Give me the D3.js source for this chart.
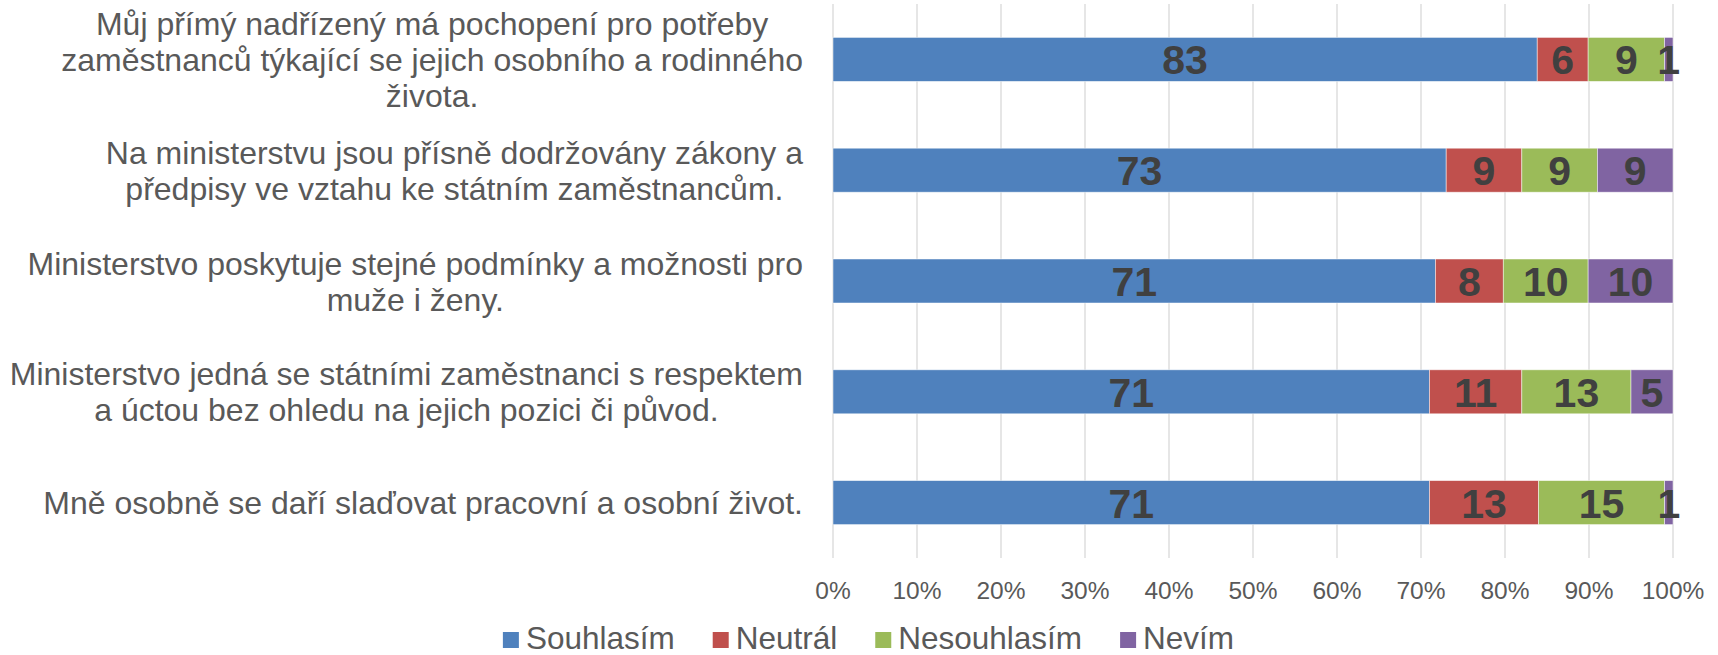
<!DOCTYPE html>
<html>
<head>
<meta charset="utf-8">
<script src="https://cdn.jsdelivr.net/npm/d3@7"></script>
<style>
  body { margin: 0; background: #fff; }
  svg { display: block; font-family: "Liberation Sans", Arial, sans-serif; }
</style>
</head>
<body>
<div id="chart"></div>
<script>
// --- data ---
const categories = [
    ["Můj přímý nadřízený má pochopení pro potřeby", "zaměstnanců týkající se jejich osobního a rodinného", "života."],
    ["Na ministerstvu jsou přísně dodržovány zákony a", "předpisy ve vztahu ke státním zaměstnancům."],
    ["Ministerstvo poskytuje stejné podmínky a možnosti pro", "muže i ženy."],
    ["Ministerstvo jedná se státními zaměstnanci s respektem", "a úctou bez ohledu na jejich pozici či původ."],
    ["Mně osobně se daří slaďovat pracovní a osobní život."]
];
const seriesNames = ["Souhlasím", "Neutrál", "Nesouhlasím", "Nevím"];
const souhlasim   = [83, 73, 71, 71, 71];
const neutral     = [6, 9, 8, 11, 13];
const nesouhlasim = [9, 9, 10, 13, 15];
const nevim       = [1, 9, 10, 5, 1];
const tickValues  = [0, 0.1, 0.2, 0.3, 0.4, 0.5, 0.6, 0.7, 0.8, 0.9, 1];

const colors = { "Souhlasím": "#4f81bd", "Neutrál": "#c0504d", "Nesouhlasím": "#9bbb59", "Nevím": "#8064a2" };

const width = 1718, height = 655;
const plot = { l: 833, r: 1673, t: 4, b: 558 };

const rows = categories.map((c, i) => ({
    idx: i,
    "Souhlasím": souhlasim[i],
    "Neutrál": neutral[i],
    "Nesouhlasím": nesouhlasim[i],
    "Nevím": nevim[i]
}));

// 100% stacked
const stack = d3.stack().keys(seriesNames).offset(d3.stackOffsetExpand)(rows);

const svg = d3.select("#chart").append("svg")
    .attr("width", width)
    .attr("height", height);

const x = d3.scaleLinear().domain([0, 1]).range([plot.l, plot.r]);
const y = d3.scaleBand().domain(d3.range(categories.length)).range([plot.t, plot.b])
    .paddingInner(0.603).paddingOuter(0.3015);

// gridlines
svg.append("g").selectAll("line").data(tickValues).join("line")
    .attr("x1", d => x(d)).attr("x2", d => x(d))
    .attr("y1", plot.t).attr("y2", plot.b)
    .attr("stroke", "#d9d9d9").attr("stroke-width", 1.3);

// tick labels
const fmt = d3.format(".0%");
svg.append("g").selectAll("text").data(tickValues).join("text")
    .attr("x", d => x(d)).attr("y", 599)
    .attr("text-anchor", "middle")
    .attr("font-size", 24.5)
    .attr("fill", "#595959")
    .text(d => fmt(d));

// bars
const layers = svg.append("g").selectAll("g").data(stack).join("g")
    .attr("fill", d => colors[d.key]);

layers.selectAll("rect").data(d => d).join("rect")
    .attr("x", d => x(d[0]))
    .attr("width", d => x(d[1]) - x(d[0]))
    .attr("y", d => y(d.data.idx))
    .attr("height", y.bandwidth())
    .attr("stroke", "#fff").attr("stroke-width", 0.8).attr("stroke-opacity", 0.6);

// data labels
const labelG = svg.append("g");
stack.forEach(layer => {
    layer.forEach(d => {
        const cx = (x(d[0]) + x(d[1])) / 2;
        const cy = y(d.data.idx) + y.bandwidth() / 2;
        labelG.append("text")
            .attr("x", cx).attr("y", cy + 15)
            .attr("text-anchor", "middle")
            .attr("font-size", 41)
            .attr("font-weight", "bold")
            .attr("fill", "#404040")
            .text(d.data[layer.key]);
    });
});

// category labels, each block centered, right edge at 803
const catG = svg.append("g");
const lineH = 36, catSize = 32;
categories.forEach((lines, i) => {
    const cy = y(i) + y.bandwidth() / 2;
    const g = catG.append("g");
    const texts = lines.map(ln => g.append("text")
        .attr("font-size", catSize)
        .attr("fill", "#595959")
        .attr("text-anchor", "middle")
        .text(ln));
    const maxW = d3.max(texts, t => t.node().getComputedTextLength());
    const bx = 803 - maxW / 2;
    texts.forEach((t, j) => {
        t.attr("x", bx)
         .attr("y", cy + (j - (lines.length - 1) / 2) * lineH + catSize * 0.36);
    });
});

// legend
const legG = svg.append("g");
const legSize = 31.5, sq = 16, gapText = 7, gapItem = 38;
let lx = 0;
seriesNames.forEach(name => {
    const it = legG.append("g").attr("transform", `translate(${lx},0)`);
    it.append("rect").attr("width", sq).attr("height", sq).attr("y", -sq / 2).attr("fill", colors[name]);
    const t = it.append("text")
        .attr("x", sq + gapText).attr("y", 9)
        .attr("font-size", legSize)
        .attr("fill", "#595959")
        .text(name);
    lx += sq + gapText + t.node().getComputedTextLength() + gapItem;
});
const legW = lx - gapItem;
legG.attr("transform", `translate(${868.5 - legW / 2},640)`);
</script>
</body>
</html>
